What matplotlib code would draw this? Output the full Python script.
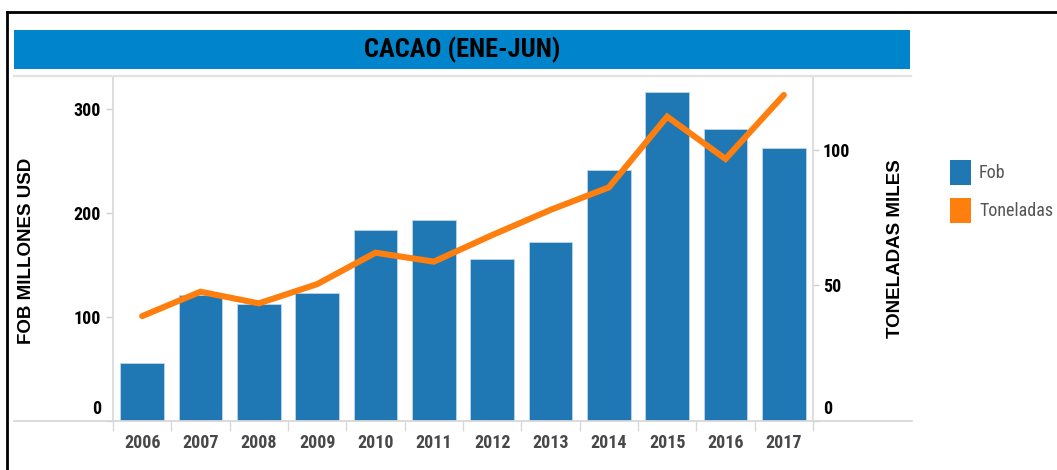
import matplotlib
matplotlib.use("Agg")
import matplotlib.pyplot as plt
import matplotlib.transforms as mtransforms
from matplotlib.patches import Rectangle
from matplotlib.lines import Line2D
import numpy as np

# cacao exports, january-june of each year
years = ['2006', '2007', '2008', '2009', '2010', '2011',
         '2012', '2013', '2014', '2015', '2016', '2017']
fob = [56, 121, 112.5, 123, 184, 193, 155.5, 172, 241, 316, 280.5, 262]
toneladas = [38.7, 47.7, 43.4, 50.5, 62.1, 58.8, 68.6, 77.9, 86.2, 112.3, 96.7, 120.3]

W, H = 1057, 470
narrow = ['Roboto Condensed', 'IBM Plex Sans Condensed', 'DejaVu Sans']
legend_font = ['Roboto Condensed', 'Archivo Narrow', 'DejaVu Sans']
wide = ['Liberation Sans', 'DejaVu Sans']

fig = plt.figure(figsize=(W / 100, H / 100), dpi=100)

def fx(px):
    return px / W

def fy(py):
    return 1 - py / H

# outer frame (only left and top edges show)
fig.add_artist(Line2D([fx(7), fx(7)], [fy(12), 0], color='black', lw=2))
fig.add_artist(Line2D([fx(7), 1], [fy(12), fy(12)], color='black', lw=2))

# title band
fig.add_artist(Rectangle((fx(14), fy(69)), fx(896), 39 / H,
                         transform=fig.transFigure, color='#0084CC', lw=0))
fig.text(fx(462), fy(49.5), 'CACAO (ENE-JUN)', ha='center', va='center',
         fontsize=19, fontweight='bold', family=narrow, color='black')

# plot-area rules that run past the axes
fig.add_artist(Line2D([fx(14), fx(911)], [fy(76), fy(76)], color='#e2e2e2', lw=1.6))
fig.add_artist(Line2D([fx(14), fx(912)], [fy(421), fy(421)], color='#d8d8d8', lw=1.3))

ax = fig.add_axes([fx(113), fy(421), fx(700), 345 / H])
x = np.arange(len(years))
ax.bar(x, fob, width=0.75, color='#1F77B4', edgecolor='#bcd6ea', linewidth=0.6, zorder=2)
ax.set_xlim(-0.5, len(years) - 0.5)
ax.set_ylim(0, 331.7)
ax.set_yticks([0, 100, 200, 300])

ax2 = ax.twinx()
ax2.plot(x, toneladas, color='#FF7F0E', lw=4.4, solid_capstyle='round',
         solid_joinstyle='miter', zorder=3)
ax2.set_ylim(0, 127.3)
ax2.set_yticks([0, 50, 100])

for a in (ax, ax2):
    a.set_facecolor('none')
    a.spines['top'].set_visible(False)
    a.spines['bottom'].set_visible(False)
    a.spines['left'].set_color('#d8d8d8')
    a.spines['right'].set_color('#d8d8d8')
    a.spines['left'].set_linewidth(1.2)
    a.spines['right'].set_linewidth(1.2)

ax.spines['right'].set_visible(False)
ax2.spines['left'].set_visible(False)

ax.tick_params(axis='y', length=5, width=1, color='#cfcfcf', pad=3.5, labelsize=13)
ax2.tick_params(axis='y', length=4.5, width=1, color='#cfcfcf', pad=2.5, labelsize=13)
for lbl in ax.get_yticklabels() + ax2.get_yticklabels():
    lbl.set_fontweight('bold')
    lbl.set_family(narrow)

# year labels centred on the bars, tick marks on the category edges
ax.set_xticks(x)
ax.set_xticklabels(years)
ax.set_xticks(np.arange(-0.5, len(years)), minor=True)
ax.tick_params(axis='x', which='major', length=0, pad=9, labelsize=13,
               labelcolor='#484848')
ax.tick_params(axis='x', which='minor', length=7.5, width=1, color='#d8d8d8')
for lbl in ax.get_xticklabels():
    lbl.set_fontweight('bold')
    lbl.set_family(narrow)

# the zero labels sit above the baseline
lift = mtransforms.ScaledTranslation(0, 14 / 100, fig.dpi_scale_trans)
for a in (ax, ax2):
    tk = a.yaxis.get_major_ticks()[0]
    tk.label1.set_transform(tk.label1.get_transform() + lift)
    tk.label2.set_transform(tk.label2.get_transform() + lift)

fig.text(fx(27), fy(251), 'FOB MILLONES USD', rotation=90, ha='center', va='center',
         fontsize=13.5, fontweight='bold', family=wide)
fig.text(fx(896), fy(249), 'TONELADAS MILES', rotation=90, ha='center', va='center',
         fontsize=13.5, fontweight='bold', family=wide)

# legend
for top, color, name in [(160, '#1F77B4', 'Fob'), (198, '#FF7F0E', 'Toneladas')]:
    fig.add_artist(Rectangle((fx(950), fy(top + 25)), fx(21), 25 / H,
                             transform=fig.transFigure, color=color, lw=0))
    fig.text(fx(979), fy(top + 13), name, ha='left', va='center',
             fontsize=13, family=legend_font, color='#555555')

fig.savefig('out.png', dpi=100)
